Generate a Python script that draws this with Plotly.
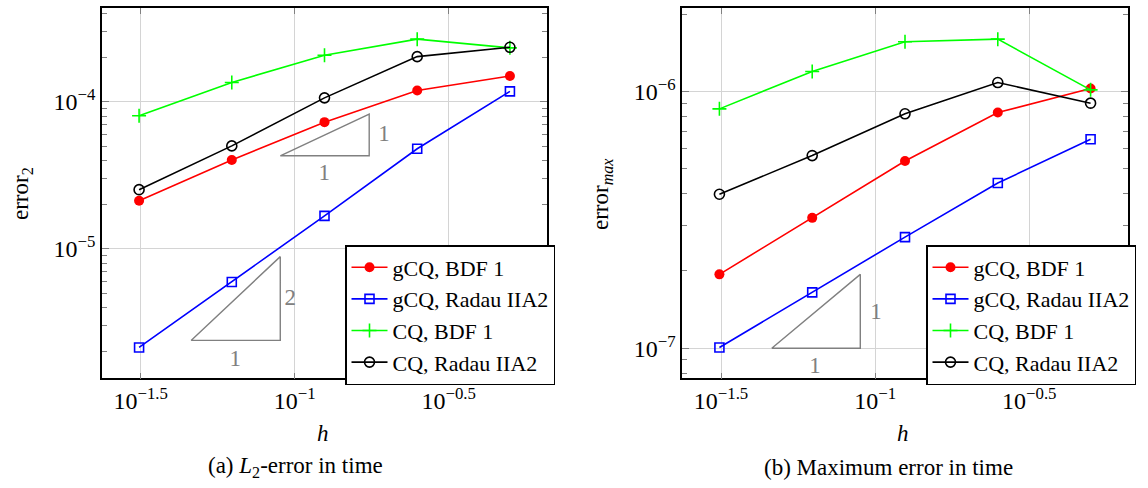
import math
import plotly.graph_objects as go

# ---------------- data ----------------
h = [1/32, 1/16, 1/8, 1/4, 1/2]

# (a) L2-error in time
l2_gcq_bdf1 = [2.13e-5, 4.03e-5, 7.28e-5, 1.195e-4, 1.50e-4]
l2_gcq_radau = [2.14e-6, 5.97e-6, 1.68e-5, 4.80e-5, 1.178e-4]
l2_cq_bdf1 = [8.04e-5, 1.355e-4, 2.075e-4, 2.67e-4, 2.33e-4]
l2_cq_radau = [2.53e-5, 5.02e-5, 1.065e-4, 2.03e-4, 2.35e-4]

# (b) Maximum error in time
mx_gcq_bdf1 = [1.94e-7, 3.22e-7, 5.36e-7, 8.28e-7, 1.028e-6]
mx_gcq_radau = [1.007e-7, 1.65e-7, 2.71e-7, 4.40e-7, 6.52e-7]
mx_cq_bdf1 = [8.56e-7, 1.197e-6, 1.563e-6, 1.60e-6, 1.015e-6]
mx_cq_radau = [3.98e-7, 5.63e-7, 8.19e-7, 1.084e-6, 9.01e-7]

series_names = ["gCQ, BDF 1", "gCQ, Radau IIA2", "CQ, BDF 1", "CQ, Radau IIA2"]

# slope triangles (reference annotations)
tri_a1_x = [0.0898, 0.1746, 0.1746, 0.0898]
tri_a1_y = [4.30e-5, 4.30e-5, 8.26e-5, 4.30e-5]
tri_a2_x = [0.0461, 0.0898, 0.0898, 0.0461]
tri_a2_y = [2.39e-6, 2.39e-6, 8.87e-6, 2.39e-6]
tri_b1_x = [0.0462, 0.0895, 0.0895, 0.0462]
tri_b1_y = [1.0e-7, 1.0e-7, 1.94e-7, 1.0e-7]

lab_a_x = [0.195, 0.1248, 0.0968, 0.0641]
lab_a_y = [5.94e-5, 3.23e-5, 4.58e-6, 1.746e-6]
lab_a_t = ["1", "1", "2", "1"]
lab_b_x = [0.1007, 0.0638]
lab_b_y = [1.368e-7, 8.47e-8]
lab_b_t = ["1", "1"]

x_tickvals = [10 ** -1.5, 10 ** -1, 10 ** -0.5]
x_ticktext = ["10<sup>−1.5</sup>", "10<sup>−1</sup>", "10<sup>−0.5</sup>"]
ya_tickvals = [1e-5, 1e-4]
ya_ticktext = ["10<sup>−5</sup>", "10<sup>−4</sup>"]
yb_tickvals = [1e-7, 1e-6]
yb_ticktext = ["10<sup>−7</sup>", "10<sup>−6</sup>"]

# ---------------- style ----------------
W, H = 1148, 488
FONT = "Liberation Serif, Times New Roman, Times, serif"
GRAY = "#808080"
GRID = "#d4d4d4"
colors = ["#ff0000", "#0000ff", "#00ff00", "#000000"]
markers = [
    dict(symbol="circle", size=10, color="#ff0000", line=dict(width=0)),
    dict(symbol="square-open", size=9, color="#0000ff", line=dict(width=1.6)),
    dict(symbol="cross-thin-open", size=10, color="#00ff00", line=dict(width=1.6, color="#00ff00")),
    dict(symbol="circle-open", size=10, color="#000000", line=dict(width=1.6)),
]


def px2x(p):
    return p / W


def px2y(p):
    return 1 - p / H


def log_range(*arrs):
    vals = [math.log10(v) for a in arrs for v in a]
    lo, hi = min(vals), max(vals)
    e = 0.1 * (hi - lo)
    return [lo - e, hi + e]


def minor_vals(rng):
    out = []
    for k in range(math.floor(rng[0]), math.ceil(rng[1]) + 1):
        for m in range(2, 10):
            v = m * 10 ** k
            if rng[0] <= math.log10(v) <= rng[1]:
                out.append(v)
    return out


fig = go.Figure()

panels = [
    ("x", "y", "legend", [l2_gcq_bdf1, l2_gcq_radau, l2_cq_bdf1, l2_cq_radau]),
    ("x2", "y2", "legend2", [mx_gcq_bdf1, mx_gcq_radau, mx_cq_bdf1, mx_cq_radau]),
]
for xa, ya, lg, ser in panels:
    for i, ys in enumerate(ser):
        fig.add_trace(go.Scatter(
            x=h, y=ys, mode="lines+markers", name=series_names[i],
            line=dict(color=colors[i], width=1.6), marker=markers[i],
            xaxis=xa, yaxis=ya, legend=lg, showlegend=True,
        ))

for tx, ty, xa, ya in [(tri_a1_x, tri_a1_y, "x", "y"), (tri_a2_x, tri_a2_y, "x", "y"),
                       (tri_b1_x, tri_b1_y, "x2", "y2")]:
    fig.add_trace(go.Scatter(x=tx, y=ty, mode="lines", line=dict(color=GRAY, width=1.4),
                             xaxis=xa, yaxis=ya, showlegend=False, hoverinfo="skip"))

fig.add_trace(go.Scatter(x=lab_a_x, y=lab_a_y, mode="text", text=lab_a_t,
                         textfont=dict(family=FONT, size=23, color=GRAY),
                         xaxis="x", yaxis="y", showlegend=False, hoverinfo="skip"))
fig.add_trace(go.Scatter(x=lab_b_x, y=lab_b_y, mode="text", text=lab_b_t,
                         textfont=dict(family=FONT, size=23, color=GRAY),
                         xaxis="x2", yaxis="y2", showlegend=False, hoverinfo="skip"))

xr = log_range(h)
ya_r = log_range(l2_gcq_bdf1, l2_gcq_radau, l2_cq_bdf1, l2_cq_radau)
yb_r = log_range(mx_gcq_bdf1, mx_gcq_radau, mx_cq_bdf1, mx_cq_radau)

tickfont = dict(family=FONT, size=24, color="black")
ydom = [px2y(378.3), px2y(8.3)]


def xaxis(dom):
    return dict(type="log", domain=dom, range=xr, tickmode="array", tickvals=x_tickvals,
                ticktext=x_ticktext, ticks="inside", ticklen=6, tickcolor=GRAY, tickwidth=1,
                showline=True, linecolor="black", linewidth=1.6, mirror="ticks",
                showgrid=True, gridcolor=GRID, gridwidth=1, zeroline=False,
                tickfont=tickfont, fixedrange=True)


def yaxis(dom, rng, tv, tt, anchor):
    return dict(type="log", domain=dom, range=rng, tickmode="array", tickvals=tv,
                ticktext=tt, ticks="inside", ticklen=7, tickcolor=GRAY, tickwidth=1,
                showline=True, linecolor="black", linewidth=1.6, mirror="ticks",
                showgrid=True, gridcolor=GRID, gridwidth=1, zeroline=False,
                tickfont=tickfont, anchor=anchor, fixedrange=True,
                minor=dict(tickmode="array", tickvals=minor_vals(rng), ticks="inside",
                           ticklen=5, tickcolor=GRAY, tickwidth=1, showgrid=False))


legend_common = dict(xanchor="left", yanchor="top", bordercolor="black", borderwidth=1.5,
                     bgcolor="white", font=dict(family=FONT, size=22, color="black"),
                     tracegroupgap=0, itemwidth=36)

fig.update_layout(
    width=W, height=H, margin=dict(l=0, r=0, t=0, b=0, autoexpand=False),
    paper_bgcolor="white", plot_bgcolor="white",
    font=dict(family=FONT, size=22, color="black"),
    xaxis=dict(**xaxis([px2x(102), px2x(547)]), anchor="y"),
    yaxis=yaxis(ydom, ya_r, ya_tickvals, ya_ticktext, "x"),
    xaxis2=dict(**xaxis([px2x(682.3), px2x(1127.7)]), anchor="y2"),
    yaxis2=yaxis(ydom, yb_r, yb_tickvals, yb_ticktext, "x2"),
    legend=dict(x=px2x(345), y=px2y(245), **legend_common),
    legend2=dict(x=px2x(926), y=px2y(245), **legend_common),
    showlegend=True,
)

annots = [
    dict(text="<i>h</i>", x=px2x(323), y=px2y(433)),
    dict(text="<i>h</i>", x=px2x(903), y=px2y(433)),
    dict(text="(a) <i>L</i><sub>2</sub>-error in time", x=px2x(295), y=px2y(467)),
    dict(text="(b) Maximum error in time", x=px2x(888), y=px2y(467)),
    dict(text="error<sub>2</sub>", x=px2x(22), y=px2y(194), textangle=-90),
    dict(text="error<sub><i>max</i></sub>", x=px2x(602), y=px2y(194), textangle=-90),
]
for a in annots:
    fig.add_annotation(xref="paper", yref="paper", showarrow=False, xanchor="center",
                       yanchor="middle", font=dict(family=FONT, size=23, color="black"), **a)

fig.write_html("out.html")
